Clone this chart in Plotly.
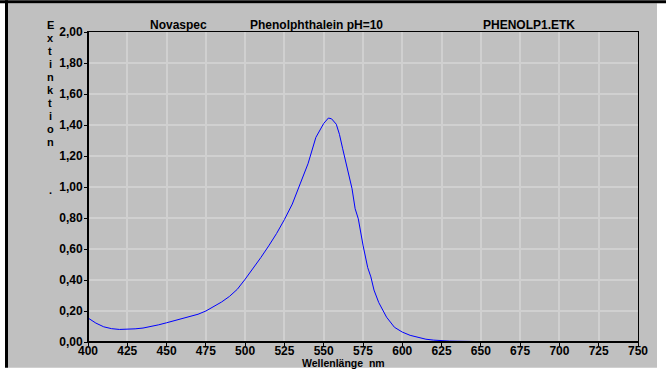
import plotly.graph_objects as go

# ---- data ----
wavelength = [400, 405, 410, 415, 420, 425, 430, 435, 440, 445, 450, 455, 460, 465, 470,
              475, 480, 485, 490, 495, 500, 505, 510, 515, 520, 525, 530, 535, 540, 545,
              550, 553, 555, 558, 560, 562, 565, 568, 570, 572, 575, 578, 580, 582, 585,
              590, 595, 600, 605, 610, 615, 620, 625, 630, 635, 640, 645, 648, 650,
              681, 685, 689]
extinction = [0.155, 0.122, 0.098, 0.086, 0.081, 0.082, 0.085, 0.090, 0.099, 0.111, 0.124,
              0.138, 0.150, 0.164, 0.179, 0.200, 0.227, 0.258, 0.294, 0.340, 0.405, 0.472,
              0.545, 0.620, 0.700, 0.790, 0.890, 1.020, 1.150, 1.320, 1.410, 1.445, 1.440,
              1.405, 1.340, 1.250, 1.120, 0.990, 0.860, 0.795, 0.625, 0.480, 0.420, 0.335,
              0.255, 0.160, 0.095, 0.064, 0.043, 0.028, 0.018, 0.012, 0.008, 0.006, 0.005,
              0.004, 0.004, 0.003, None, 0.003, 0.003, 0.003]

x_ticks = list(range(400, 751, 25))
y_ticks = [0.0, 0.2, 0.4, 0.6, 0.8, 1.0, 1.2, 1.4, 1.6, 1.8, 2.0]
header_texts = ["Novaspec", "Phenolphthalein pH=10", "PHENOLP1.ETK"]
y_title = "Extinktion"
x_title = "Wellenlänge  nm"

# ---- layout geometry (pixels) ----
W, H = 666, 370
L, R, T, B = 88, 638, 32, 344
PW, PH = R - L, B - T


def px(p):
    return (p - L) / PW


def py(q):
    return (B - q) / PH


FONT = dict(family="Liberation Sans, Arial, sans-serif", size=12, color="black", weight="bold")
FONT_SMALL = dict(FONT, size=11)
FONT_XT = dict(FONT, size=10.5)

fig = go.Figure()
fig.add_trace(go.Scatter(x=wavelength, y=extinction, mode="lines",
                         line=dict(color="#0000ff", width=1), connectgaps=False,
                         hoverinfo="skip"))

shapes = [
    # gray window body
    dict(type="rect", xref="paper", yref="paper", x0=px(8), x1=px(657), y0=py(370), y1=py(3),
         fillcolor="#c0c0c0", line=dict(width=0), layer="below"),
    # black top bar
    dict(type="rect", xref="paper", yref="paper", x0=px(0), x1=px(666), y0=py(3), y1=py(0),
         fillcolor="black", line=dict(width=0), layer="below"),
    # black left bar
    dict(type="rect", xref="paper", yref="paper", x0=px(5), x1=px(8), y0=py(370), y1=py(0),
         fillcolor="black", line=dict(width=0), layer="below"),
    # thicker left / bottom axis lines
    dict(type="line", xref="paper", yref="paper", x0=0, x1=0, y0=0, y1=1,
         line=dict(color="black", width=2), layer="above"),
    dict(type="line", xref="paper", yref="paper", x0=0, x1=1, y0=0, y1=0,
         line=dict(color="black", width=2), layer="above"),
]

annotations = []
for txt, cx in zip(header_texts, [178, 316, 529]):
    annotations.append(dict(text=txt, xref="paper", yref="paper", x=px(cx), y=py(25),
                            xanchor="center", yanchor="middle", showarrow=False, font=FONT))
for i, ch in enumerate(y_title):
    annotations.append(dict(text=ch, xref="paper", yref="paper", x=px(50), y=py(25 + i * 13.1),
                            xanchor="center", yanchor="middle", showarrow=False,
                            font=FONT_SMALL, borderpad=0))
annotations.append(dict(text=".", xref="paper", yref="paper", x=px(50), y=py(191),
                        xanchor="center", yanchor="middle", showarrow=False, font=FONT_SMALL,
                        borderpad=0))
annotations.append(dict(text=x_title, xref="paper", yref="paper", x=px(343), y=py(358.5),
                        xanchor="center", yanchor="top", showarrow=False, font=FONT_XT,
                        borderpad=0))

fig.update_layout(
    width=W, height=H,
    margin=dict(l=L, r=W - R, t=T, b=H - B, pad=0),
    paper_bgcolor="white", plot_bgcolor="white",
    separators=",.",
    showlegend=False,
    shapes=shapes, annotations=annotations,
    xaxis=dict(range=[400, 750], tickvals=x_ticks, ticktext=[str(v) for v in x_ticks],
               showgrid=True, gridcolor="#d0d0d0", gridwidth=1.5,
               showline=True, linecolor="black", linewidth=1, mirror=True,
               ticks="outside", ticklen=3, tickcolor="black", tickfont=FONT,
               zeroline=False, fixedrange=True, ticklabelstandoff=-5),
    yaxis=dict(range=[0, 2], tickvals=y_ticks, tickformat=".2f",
               showgrid=True, gridcolor="#d0d0d0", gridwidth=1.5,
               showline=True, linecolor="black", linewidth=1, mirror=True,
               ticks="outside", ticklen=3, tickcolor="black", tickfont=FONT,
               zeroline=False, fixedrange=True, ticklabelstandoff=-1),
)

fig.write_html("out.html", config={"displayModeBar": False})
